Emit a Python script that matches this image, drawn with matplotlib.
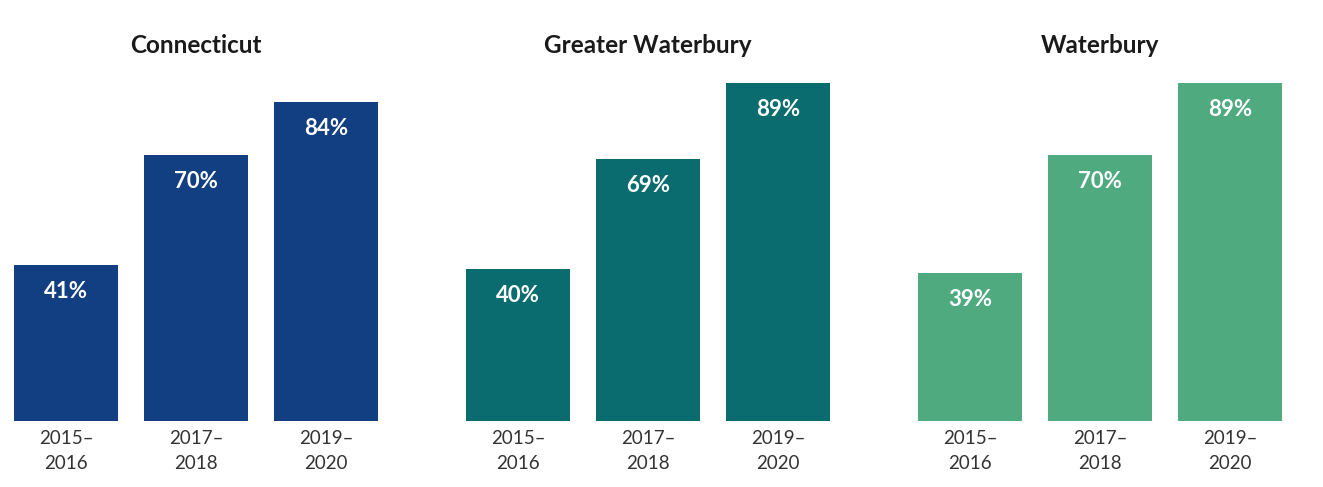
import matplotlib.pyplot as plt

plt.rcParams['font.family'] = ['Lato', 'DejaVu Sans']

# Data
regions = ['Connecticut', 'Greater Waterbury', 'Waterbury']
periods = ['2015–\n2016', '2017–\n2018', '2019–\n2020']
connecticut = [41, 70, 84]
greater_waterbury = [40, 69, 89]
waterbury = [39, 70, 89]
values = [connecticut, greater_waterbury, waterbury]
colors = ['#123F82', '#0B6C6F', '#4FAA80']

W, H = 1323, 487
fig = plt.figure(figsize=(W / 100, H / 100), dpi=100)

for i, (name, vals, col) in enumerate(zip(regions, values, colors)):
    # axes placed in pixel units: baseline at y=421 from top, 3.8 px per percent
    left = 1 + 452 * i
    ax = fig.add_axes([left / W, 66 / H, 390 / W, 380 / H])
    x = range(len(periods))
    ax.bar(x, vals, width=0.8, color=col)
    ax.set_xlim(-0.5, 2.5)
    ax.set_ylim(0, 100)
    for xi, v in zip(x, vals):
        ax.text(xi, v - 6.9, f'{v}%', ha='center', va='center', color='white',
                fontsize=16, fontweight='bold')
    for xi, lab in zip(x, periods):
        ax.text(xi, -2.4, lab, ha='center', va='top', color='#333333',
                fontsize=13.5, linespacing=1.55, clip_on=False)
    ax.text(1, 98.8, name, ha='center', va='center', color='#1a1a1a',
            fontsize=17.5, fontweight='bold', clip_on=False)
    ax.axis('off')

fig.savefig('out.png', dpi=100)
